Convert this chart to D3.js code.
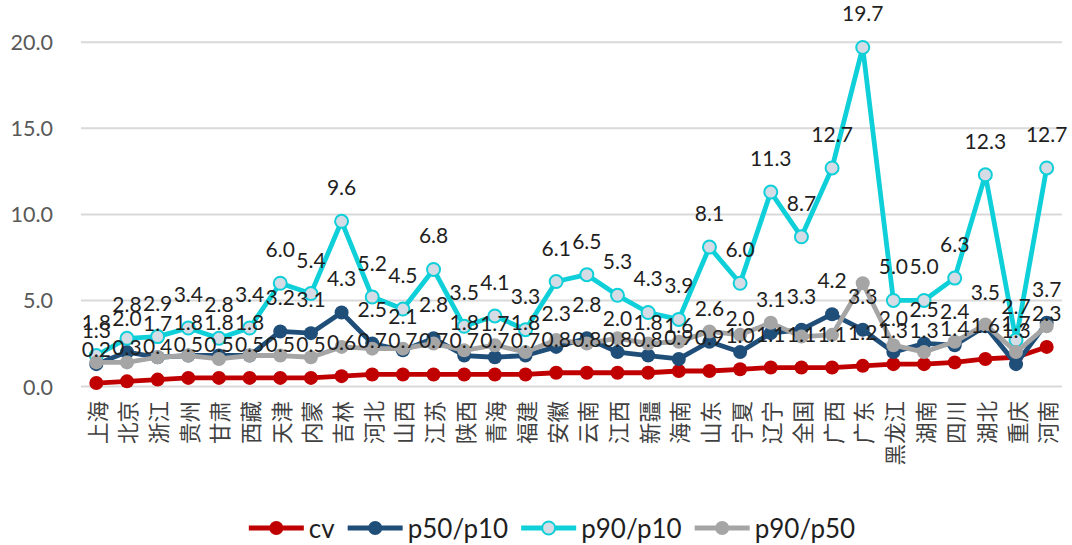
<!DOCTYPE html>
<html>
<head>
<meta charset="utf-8">
<script src="https://cdn.jsdelivr.net/npm/d3@7"></script>
<style>
  html, body { margin: 0; padding: 0; background: #fff; }
  svg { display: block; font-family: Lato, "Noto Sans CJK SC", sans-serif; }
</style>
</head>
<body>
<svg id="chart" width="1072" height="545"></svg>
<script>
// Provinces sorted by cv, with 全国 in between
const categories = ['上海', '北京', '浙江', '贵州', '甘肃', '西藏', '天津', '内蒙', '吉林', '河北',
  '山西', '江苏', '陕西', '青海', '福建', '安徽', '云南', '江西', '新疆', '海南', '山东', '宁夏',
  '辽宁', '全国', '广西', '广东', '黑龙江', '湖南', '四川', '湖北', '重庆', '河南'];

const cvValues = [0.2, 0.3, 0.4, 0.5, 0.5, 0.5, 0.5, 0.5, 0.6, 0.7, 0.7, 0.7, 0.7, 0.7, 0.7, 0.8,
  0.8, 0.8, 0.8, 0.9, 0.9, 1.0, 1.1, 1.1, 1.1, 1.2, 1.3, 1.3, 1.4, 1.6, 1.7, 2.3];

const p50p10Values = [1.3, 2.0, 1.7, 1.8, 1.8, 1.8, 3.2, 3.1, 4.3, 2.5, 2.1, 2.8, 1.8, 1.7, 1.8, 2.3,
  2.8, 2.0, 1.8, 1.6, 2.6, 2.0, 3.1, 3.3, 4.2, 3.3, 2.0, 2.5, 2.4, 3.5, 1.3, 3.7];

const p90p10Values = [1.8, 2.8, 2.9, 3.4, 2.8, 3.4, 6.0, 5.4, 9.6, 5.2, 4.5, 6.8, 3.5, 4.1, 3.3, 6.1,
  6.5, 5.3, 4.3, 3.9, 8.1, 6.0, 11.3, 8.7, 12.7, 19.7, 5.0, 5.0, 6.3, 12.3, 2.7, 12.7];

const p90p50Values = [1.4, 1.4, 1.7, 1.8, 1.6, 1.8, 1.8, 1.7, 2.3, 2.2, 2.2, 2.5, 2.1, 2.4, 2.0, 2.7,
  2.5, 2.8, 2.5, 2.6, 3.2, 3.0, 3.7, 2.9, 3.0, 6.0, 2.4, 2.0, 2.6, 3.6, 2.0, 3.5];

const yTicks = [0, 5, 10, 15, 20];

const SERIES = [
  { name: 'cv',      values: cvValues,     color: '#C00000', fill: '#C00000', labeled: true },
  { name: 'p50/p10', values: p50p10Values, color: '#1F4E79', fill: '#1F4E79', labeled: true },
  { name: 'p90/p10', values: p90p10Values, color: '#0FCFD8', fill: '#D6DCE5', labeled: true, ring: true },
  { name: 'p90/p50', values: p90p50Values, color: '#A5A5A5', fill: '#A5A5A5', labeled: false },
];

const svg = d3.select('#chart');

const x = d3.scalePoint().domain(categories).range([81, 1062]).padding(0.5);
const y = d3.scaleLinear().domain([0, 20]).range([386.5, 42.3]);

// Gridlines + y tick labels
const yAxis = svg.append('g');
yAxis.selectAll('line').data(yTicks).join('line')
  .attr('x1', 81).attr('x2', 1062)
  .attr('y1', (d) => y(d)).attr('y2', (d) => y(d))
  .attr('stroke', '#D9D9D9').attr('stroke-width', 2);
yAxis.selectAll('text').data(yTicks).join('text')
  .attr('x', 53).attr('y', (d) => y(d))
  .attr('text-anchor', 'end').attr('dominant-baseline', 'central')
  .attr('font-size', 21.5).attr('fill', '#595959')
  .text(d3.format('.1f'));

// Category labels, rotated
svg.append('g').selectAll('text').data(categories).join('text')
  .attr('transform', (d) => `translate(${x(d)},401) rotate(-90)`)
  .attr('text-anchor', 'end').attr('dominant-baseline', 'central')
  .attr('font-family', '"Noto Sans CJK SC", sans-serif')
  .attr('font-size', 21.5).attr('fill', '#404040')
  .text((d) => d);

// Lines + markers
const lineGen = d3.line()
  .x((d, i) => x(categories[i]))
  .y((d) => y(d));

for (const s of SERIES) {
  const g = svg.append('g');
  g.append('path').datum(s.values)
    .attr('d', lineGen)
    .attr('fill', 'none')
    .attr('stroke', s.color)
    .attr('stroke-width', 4.8)
    .attr('stroke-linejoin', 'round');
  g.selectAll('circle').data(s.values).join('circle')
    .attr('cx', (d, i) => x(categories[i]))
    .attr('cy', (d) => y(d))
    .attr('r', s.ring ? 6.5 : 7)
    .attr('fill', s.fill)
    .attr('stroke', s.ring ? s.color : 'none')
    .attr('stroke-width', 2);
}

// Data labels on top
for (const s of SERIES.filter((d) => d.labeled)) {
  svg.append('g').selectAll('text').data(s.values).join('text')
    .attr('x', (d, i) => x(categories[i]))
    .attr('y', (d) => y(d) - 26)
    .attr('text-anchor', 'middle')
    .attr('font-size', 21).attr('fill', '#1f1f1f')
    .text(d3.format('.1f'));
}

// Legend
const legend = svg.append('g').attr('transform', 'translate(0,528)');
let lx = 0;
for (const s of SERIES) {
  const item = legend.append('g').attr('transform', `translate(${lx},0)`);
  item.append('line').attr('x1', 0).attr('x2', 55)
    .attr('stroke', s.color).attr('stroke-width', 4.8);
  item.append('circle').attr('cx', 27.5).attr('r', s.ring ? 6.5 : 7)
    .attr('fill', s.fill)
    .attr('stroke', s.ring ? s.color : 'none').attr('stroke-width', 2);
  const t = item.append('text').attr('x', 60)
    .attr('dominant-baseline', 'central')
    .attr('font-size', 26).attr('fill', '#1f1f1f')
    .text(s.name);
  lx += 60 + t.node().getComputedTextLength() + 13;
}
const legendW = lx - 13;
legend.attr('transform', `translate(${552 - legendW / 2},528)`);
</script>
</body>
</html>
